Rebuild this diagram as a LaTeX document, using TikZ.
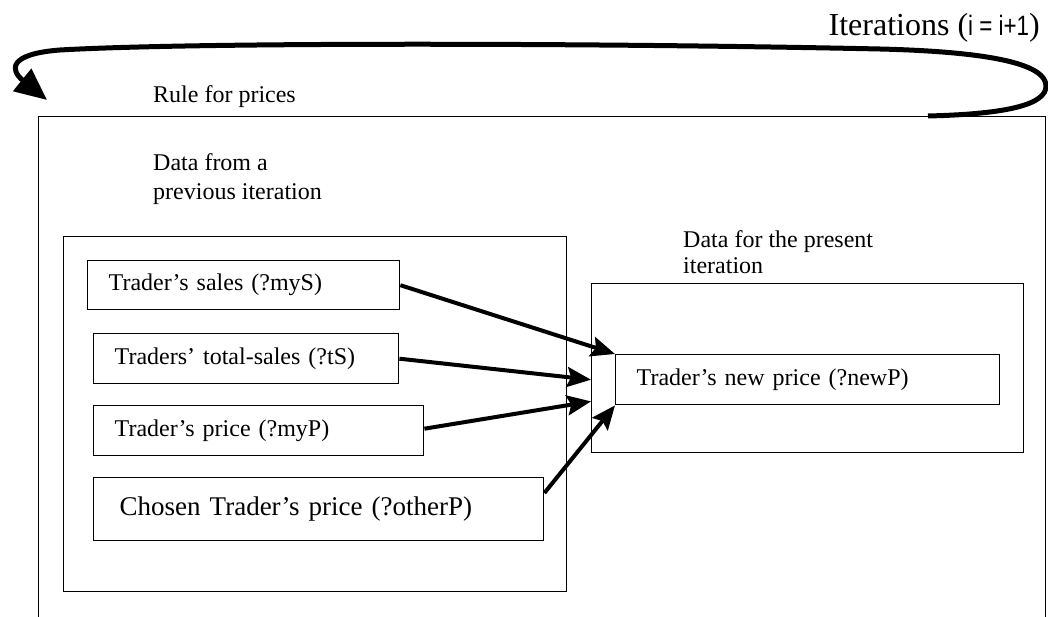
\documentclass[tikz,border=0pt]{standalone}
\usepackage{fontspec}
\setmainfont{Liberation Serif}
\setsansfont{Liberation Sans}
\usepackage{graphicx}
\usetikzlibrary{arrows.meta}

\tikzset{
  frame/.style={draw, line width=1.4pt, anchor=north west, inner sep=0pt},
  item/.style={draw, line width=1.4pt, anchor=north west, inner xsep=21pt,
    inner ysep=0pt, align=left, font=\fontsize{24}{29}\selectfont},
  txt/.style={inner sep=0pt, font=\fontsize{24}{29}\selectfont},
  feed/.style={line width=4pt, -{Stealth[length=24pt,width=20pt,inset=4pt]}},
  cycleline/.style={line width=5pt, -{Triangle[length=32pt,width=28pt]}},
}

\begin{document}
\begin{tikzpicture}[x=1pt,y=-1pt]
\useasboundingbox (0,0) rectangle (1048,617);

% containers
\node[frame, minimum width=1007pt, minimum height=540pt] (rulebox) at (38,116) {};
\node[frame, minimum width=503pt, minimum height=355pt] (prevbox) at (63,236) {};
\node[frame, minimum width=432pt, minimum height=169pt] (presbox) at (591,283) {};

% titles
\node[txt, anchor=base west] (ruletitle) at (153,103) {Rule for prices};
\node[txt, anchor=north west, align=left] (prevtitle) at (153,153) {Data from a\\previous iteration};
\node[txt, anchor=north west, align=left, font=\fontsize{24}{26}\selectfont]
  (prestitle) at (683,230) {Data for the present\\iteration};
\node[inner sep=0pt, anchor=base east] (itertitle) at (1040,36)
  {\fontsize{32}{38}\selectfont Iterations (\scalebox{0.8}[1]{\sffamily\fontsize{28}{32}\selectfont i = i+1})};

% data items
\node[item, text width=270pt, minimum height=49pt] (sales) at (87,260) {Trader’s sales (?myS)};
\node[item, text width=263pt, minimum height=50pt] (total) at (93,333) {Traders’ total-sales (?tS)};
\node[item, text width=288pt, minimum height=50pt] (price) at (93,405) {Trader’s price (?myP)};
\node[item, inner xsep=26pt, text width=398pt, minimum height=63pt,
  font=\fontsize{27}{32}\selectfont] (chosen) at (93,477) {Chosen Trader’s price (?otherP)};
\node[item, text width=342pt, minimum height=50pt] (newP) at (615,354) {Trader’s new price (?newP)};

% arrow end points
\path (price.east) ++(0,-2) coordinate (out3);
\path (chosen.north east) ++(0,16) coordinate (out4);
\path (presbox.west |- newP.south west) ++(0,-4) coordinate (in3);

\draw[feed] (sales.east) -- (newP.north west);
\draw[feed] (total.east) -- (presbox.west |- newP.west);
\draw[feed] (out3) -- (in3);
\draw[feed] (out4) -- (newP.south west);

% iteration loop
\coordinate (loopstart) at (928,116);
\coordinate (looptip) at (47,100);
\draw[cycleline] (loopstart) .. controls (1010,114) and (1046,104) .. (1046,86)
  .. controls (1046,66) and (1000,52) .. (880,49)
  .. controls (600,43) and (200,42) .. (60,50)
  .. controls (8,54) and (10,70) .. (looptip);
\end{tikzpicture}
\end{document}
